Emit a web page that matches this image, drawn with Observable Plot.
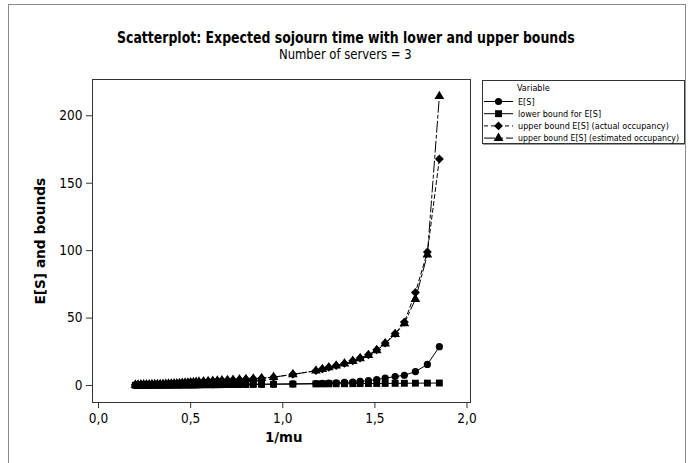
<!DOCTYPE html>
<html>
<head>
<meta charset="utf-8">
<script src="https://cdn.jsdelivr.net/npm/d3@7"></script>
<script src="https://cdn.jsdelivr.net/npm/@observablehq/plot@0.6"></script>
<style>
  html, body { margin: 0; padding: 0; background: #fff; }
  #wrap { position: relative; width: 691px; height: 463px; overflow: hidden; font-family: "DejaVu Sans Condensed", "DejaVu Sans", sans-serif; color: #000; }
  #wrap svg.plot { position: absolute; left: 0; top: 0; }
  .abs { position: absolute; white-space: nowrap; line-height: 1; }
  #border { position: absolute; left: 8px; top: 4px; width: 678px; height: 480px; border: 1px solid #8a8a8a; box-sizing: border-box; }
  #legend { position: absolute; left: 482px; top: 80px; width: 203px; height: 64px; border: 1px solid #333; box-shadow: 1px 1px 0 #999; background: #fff; box-sizing: border-box; }
</style>
</head>
<body>
<div id="wrap">
  <div id="border"></div>
</div>
<script>
// ---------- data ----------
const invMu = [0.20, 0.215, 0.23, 0.245, 0.26, 0.275, 0.29, 0.305, 0.32, 0.335, 0.35, 0.365, 0.38, 0.395, 0.41, 0.425, 0.44, 0.455, 0.47, 0.485, 0.50,
  0.515, 0.53, 0.545, 0.57, 0.595, 0.62, 0.645, 0.67, 0.70, 0.73, 0.765, 0.80, 0.84, 0.885, 0.95, 1.055,
  1.18, 1.215, 1.25, 1.29, 1.335, 1.38, 1.42, 1.465, 1.51, 1.556, 1.61, 1.66, 1.72, 1.785, 1.85];
const expectedS = [0.20, 0.22, 0.23, 0.25, 0.26, 0.28, 0.29, 0.31, 0.32, 0.34, 0.35, 0.37, 0.38, 0.40, 0.41, 0.43, 0.44, 0.46, 0.48, 0.49, 0.51,
  0.53, 0.54, 0.56, 0.59, 0.61, 0.64, 0.67, 0.70, 0.73, 0.77, 0.81, 0.86, 0.91, 0.97, 1.06, 1.22,
  1.5, 1.65, 1.8, 2.0, 2.3, 2.6, 3.0, 3.6, 4.4, 5.5, 6.6, 7.6, 10.3, 15.6, 28.8];
const lowerBound = [0.20, 0.21, 0.23, 0.24, 0.26, 0.27, 0.29, 0.30, 0.32, 0.33, 0.35, 0.36, 0.38, 0.39, 0.41, 0.42, 0.44, 0.45, 0.47, 0.48, 0.50,
  0.51, 0.53, 0.54, 0.57, 0.59, 0.62, 0.64, 0.67, 0.70, 0.73, 0.76, 0.80, 0.84, 0.88, 0.95, 1.05,
  1.18, 1.21, 1.25, 1.29, 1.33, 1.38, 1.42, 1.46, 1.51, 1.55, 1.61, 1.66, 1.72, 1.78, 1.85];
const upperActual = [0.5, 0.55, 0.6, 0.65, 0.7, 0.75, 0.8, 0.85, 0.9, 0.95, 1.0, 1.1, 1.2, 1.3, 1.4, 1.5, 1.6, 1.75, 1.9, 2.05, 2.2,
  2.35, 2.5, 2.7, 2.95, 3.1, 3.3, 3.5, 3.7, 3.9, 4.1, 4.3, 4.6, 5.0, 5.4, 6.2, 8.3,
  11.0, 12.2, 13.5, 14.8, 16.4, 18.4, 20.4, 22.8, 26.5, 31.5, 38.5, 47, 69, 99, 168];
const upperEstimated = [0.5, 0.55, 0.6, 0.65, 0.7, 0.75, 0.8, 0.85, 0.9, 0.95, 1.0, 1.1, 1.2, 1.3, 1.4, 1.5, 1.6, 1.75, 1.9, 2.05, 2.2,
  2.35, 2.5, 2.7, 2.95, 3.1, 3.3, 3.5, 3.7, 3.9, 4.1, 4.3, 4.6, 5.0, 5.4, 6.2, 8.2,
  10.9, 12.0, 13.3, 14.6, 16.2, 18.1, 20.1, 22.4, 26.0, 31.0, 38.0, 46, 64, 97, 214.5];
const seriesNames = ["E[S]", "lower bound for E[S]", "upper bound E[S] (actual occupancy)", "upper bound E[S] (estimated occupancy)"];
const xTicks = [0, 0.5, 1.0, 1.5, 2.0];
const yTicks = [0, 50, 100, 150, 200];
const titleText = "Scatterplot: Expected sojourn time with lower and upper bounds";
const subtitleText = "Number of servers = 3";
const xLabel = "1/mu";
const yLabel = "E[S] and bounds";
const legendTitle = "Variable";

// ---------- build ----------
const seriesValues = [expectedS, lowerBound, upperActual, upperEstimated];
const styles = [
  {symbol: "circle", r: 3.6, dash: null},
  {symbol: "square", r: 3.9, dash: null},
  {symbol: "diamond2", r: 4.0, dash: "4,3"},
  {symbol: "triangle", r: 3.6, dash: "11,3,3,3"}
];
const tables = seriesValues.map((vals, i) => invMu.map((x, j) => ({x, y: vals[j], s: seriesNames[i]})));
const fmt = d => d3.format(".1f")(d).replace(".", ",");
const FONT = '"DejaVu Sans Condensed", "DejaVu Sans", sans-serif';

const marks = [Plot.frame({stroke: "#333"})];
tables.forEach((t, i) => {
  marks.push(Plot.line(t, {x: "x", y: "y", stroke: "black", strokeWidth: 1, strokeDasharray: styles[i].dash}));
});
tables.forEach((t, i) => {
  marks.push(Plot.dot(t, {x: "x", y: "y", symbol: styles[i].symbol, r: styles[i].r, fill: "black", stroke: "none"}));
});
marks.push(Plot.axisX({ticks: xTicks, tickFormat: fmt, tickSize: 6, tickPadding: 5, fontSize: 13.5, label: null, stroke: "#333"}));
marks.push(Plot.axisY({ticks: yTicks, tickSize: 6, tickPadding: 4, fontSize: 13.5, label: null, stroke: "#333"}));

const chart = Plot.plot({
  width: 691, height: 463,
  marginLeft: 92, marginRight: 221, marginTop: 79, marginBottom: 61,
  style: {fontFamily: FONT, fontSize: "13px", color: "black", background: "transparent", overflow: "visible"},
  x: {domain: [-0.0326, 2.019]},
  y: {domain: [-12.6, 226.9]},
  marks
});
chart.classList.add("plot");
const wrap = document.getElementById("wrap");
wrap.insertBefore(chart, wrap.firstChild);

// ---------- text ----------
function addText(text, opts) {
  const d = document.createElement("div");
  d.className = "abs";
  d.textContent = text;
  Object.assign(d.style, opts);
  wrap.appendChild(d);
  return d;
}
function place(el, cx, cy, targetW, rotate) {
  const w = el.offsetWidth, h = el.offsetHeight;
  el.style.left = (cx - w / 2) + "px";
  el.style.top = (cy - h / 2) + "px";
  const sx = targetW ? targetW / w : 1;
  el.style.transformOrigin = "50% 50%";
  el.style.transform = (rotate ? `rotate(${rotate}deg) ` : "") + `scaleX(${sx})`;
}
const t1 = addText(titleText, {fontWeight: "bold", fontSize: "16.5px"});
place(t1, 346, 38, 458);
const t2 = addText(subtitleText, {fontSize: "13.5px"});
place(t2, 345, 55, 133);
const xl = addText(xLabel, {fontWeight: "bold", fontSize: "14px"});
place(xl, 283, 437, 37);
const yl = addText(yLabel, {fontWeight: "bold", fontSize: "14.5px"});
place(yl, 40, 241, 127, -90);

// ---------- legend ----------
const legend = document.createElement("div");
legend.id = "legend";
wrap.appendChild(legend);
const ls = d3.select(legend).append("svg").attr("width", 201).attr("height", 62).style("position", "absolute").style("left", "0px").style("top", "0px");
ls.append("text").attr("x", 34).attr("y", 10).attr("font-size", 9).attr("font-family", FONT).text(legendTitle);
seriesNames.forEach((name, i) => {
  const y = 20.5 + i * 12.2;
  ls.append("line").attr("x1", 1).attr("x2", 30).attr("y1", y).attr("y2", y)
    .attr("stroke", "black").attr("stroke-width", 1).attr("stroke-dasharray", i === 2 ? "4,3" : i === 3 ? "11,4,4,3" : null);
  const sym = d3.symbol().type([d3.symbolCircle, d3.symbolSquare, d3.symbolDiamond2, d3.symbolTriangle][i]).size(Math.PI * styles[i].r * styles[i].r);
  ls.append("path").attr("d", sym()).attr("transform", `translate(15.5,${y})`).attr("fill", "black");
  ls.append("text").attr("x", 35).attr("y", y + 3).attr("font-size", 9).attr("font-family", FONT).attr("textLength", i === 3 ? 161 : null).attr("lengthAdjust", "spacingAndGlyphs").text(name);
});
</script>
</body>
</html>
